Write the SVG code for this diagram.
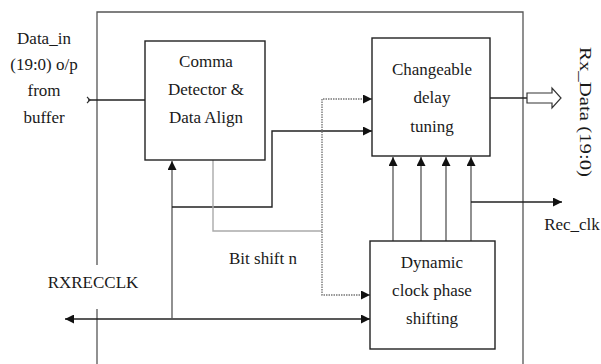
<svg xmlns="http://www.w3.org/2000/svg" width="601" height="364" viewBox="0 0 601 364">
  <style>
    text { font-family: "Liberation Serif", "Times New Roman", serif; font-size: 17px; fill: #1a1a1a; text-anchor: middle; }
    .box { fill: #fff; stroke: #222; stroke-width: 1.4; }
    .wire { fill: none; stroke: #222; stroke-width: 1.4; }
    .thin { fill: none; stroke: #555; stroke-width: 1.3; }
    .grey { fill: none; stroke: #aaa; stroke-width: 1.4; }
    .dot { fill: none; stroke: #777; stroke-width: 1.4; stroke-dasharray: 1.5 1; }
  </style>
  <defs>
    <marker id="arr" viewBox="0 0 10 10" refX="10" refY="5" markerWidth="9" markerHeight="9" markerUnits="userSpaceOnUse" orient="auto-start-reverse">
      <path d="M0,0 L10,5 L0,10 Z" fill="#111"/>
    </marker>
  </defs>

  <rect width="601" height="364" fill="#fff"/>

  <!-- outer module boundary (open at the bottom) -->
  <g id="module">
    <path class="thin" d="M97,265 V12 H523 V364"/>
    <path class="thin" d="M97,309 V364"/>
  </g>

  <g id="connectors">
    <!-- input bus -->
    <path class="wire" d="M88,100 H145"/>
    <path fill="none" stroke="#333" stroke-width="1.1" d="M87,97 L90,100 L87,103"/>
    <!-- RXRECCLK bidirectional -->
    <path class="wire" d="M65,319 H370" marker-start="url(#arr)" marker-end="url(#arr)"/>
    <!-- clock up into comma detector -->
    <path class="thin" d="M172,319 V161" marker-end="url(#arr)"/>
    <!-- clock into delay tuning -->
    <path class="wire" d="M172,207 H272 V131 H372" marker-end="url(#arr)"/>
    <!-- bit shift path -->
    <path class="grey" d="M213,160 V231 H322"/>
    <path class="dot" d="M372,99 H322 V295 H370" marker-start="url(#arr)" marker-end="url(#arr)"/>
    <!-- phase shifted clocks -->
    <path class="thin" d="M393,241 V157" marker-end="url(#arr)"/>
    <path class="thin" d="M421,241 V157" marker-end="url(#arr)"/>
    <path class="thin" d="M446,241 V157" marker-end="url(#arr)"/>
    <path class="thin" d="M471,241 V157" marker-end="url(#arr)"/>
    <!-- recovered clock out -->
    <path class="wire" d="M471,202 H562" marker-end="url(#arr)"/>
    <!-- data out -->
    <path class="wire" d="M490,98 H527"/>
    <path fill="#fff" stroke="#333" stroke-width="1.2" d="M527,93 H552 V88 L561,98 L552,108 V103 H527 Z"/>
  </g>

  <g id="comma">
    <rect class="box" x="145" y="41" width="120" height="119"/>
    <text x="206" y="67">Comma</text>
    <text x="206" y="95">Detector &amp;</text>
    <text x="206" y="123">Data Align</text>
  </g>

  <g id="delay">
    <rect class="box" x="372" y="38" width="118" height="118"/>
    <text x="432" y="75">Changeable</text>
    <text x="432" y="103">delay</text>
    <text x="432" y="132">tuning</text>
  </g>

  <g id="phase">
    <rect class="box" x="370" y="241" width="125" height="108"/>
    <text x="432" y="268">Dynamic</text>
    <text x="432" y="296">clock phase</text>
    <text x="432" y="324">shifting</text>
  </g>

  <g id="labels">
    <text x="44" y="44">Data_in</text>
    <text x="44" y="70">(19:0) o/p</text>
    <text x="44" y="96">from</text>
    <text x="44" y="123">buffer</text>
    <text x="93" y="288">RXRECCLK</text>
    <text x="263" y="264">Bit shift n</text>
    <text x="572" y="230">Rec_clk</text>
    <text x="0" y="0" transform="translate(580,112) rotate(90)" textLength="130" lengthAdjust="spacingAndGlyphs">Rx_Data (19:0)</text>
  </g>
</svg>
